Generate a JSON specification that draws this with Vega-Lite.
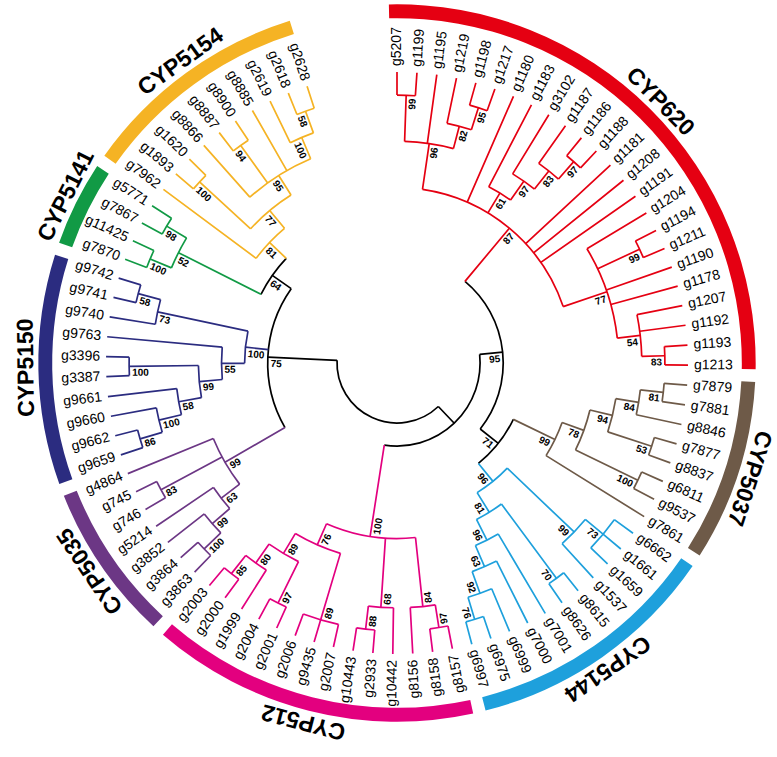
{
  "$schema": "https://vega.github.io/schema/vega-lite/v6.json",
  "width": 760,
  "height": 726,
  "autosize": {"type": "none"},
  "padding": {"left": 17, "top": 0, "right": 0, "bottom": 31},
  "config": {"view": {"stroke": null}, "font": "Liberation Sans"},
  "resolve": {"scale": {"angle": "independent"}},
  "datasets": {
    "leaves": [
      {"i":0,"n":"g5207","ph":1,"g":"CYP620"},{"i":1,"n":"g1199","ph":1,"g":"CYP620"},{"i":2,"n":"g1195","ph":3,"g":"CYP620"},{"i":3,"n":"g1219","ph":2,"g":"CYP620"},
      {"i":4,"n":"g1198","ph":1,"g":"CYP620"},{"i":5,"n":"g1217","ph":1,"g":"CYP620"},{"i":6,"n":"g1180","ph":5,"g":"CYP620"},{"i":7,"n":"g1183","ph":4,"g":"CYP620"},
      {"i":8,"n":"g3102","ph":3,"g":"CYP620"},{"i":9,"n":"g1187","ph":2,"g":"CYP620"},{"i":10,"n":"g1186","ph":1,"g":"CYP620"},{"i":11,"n":"g1188","ph":1,"g":"CYP620"},
      {"i":12,"n":"g1181","ph":5,"g":"CYP620"},{"i":13,"n":"g1208","ph":5,"g":"CYP620"},{"i":14,"n":"g1191","ph":5,"g":"CYP620"},{"i":15,"n":"g1204","ph":3,"g":"CYP620"},
      {"i":16,"n":"g1194","ph":1,"g":"CYP620"},{"i":17,"n":"g1211","ph":1,"g":"CYP620"},{"i":18,"n":"g1190","ph":3,"g":"CYP620"},{"i":19,"n":"g1178","ph":3,"g":"CYP620"},
      {"i":20,"n":"g1207","ph":2,"g":"CYP620"},{"i":21,"n":"g1192","ph":2,"g":"CYP620"},{"i":22,"n":"g1193","ph":1,"g":"CYP620"},{"i":23,"n":"g1213","ph":1,"g":"CYP620"},
      {"i":24,"n":"g7879","ph":1,"g":"CYP5037"},{"i":25,"n":"g7881","ph":1,"g":"CYP5037"},{"i":26,"n":"g8846","ph":2,"g":"CYP5037"},{"i":27,"n":"g7877","ph":1,"g":"CYP5037"},
      {"i":28,"n":"g8837","ph":1,"g":"CYP5037"},{"i":29,"n":"g6811","ph":1,"g":"CYP5037"},{"i":30,"n":"g9537","ph":1,"g":"CYP5037"},{"i":31,"n":"g7861","ph":5,"g":"CYP5037"},
      {"i":32,"n":"g6662","ph":1,"g":"CYP5144"},{"i":33,"n":"g1661","ph":1,"g":"CYP5144"},{"i":34,"n":"g1659","ph":1,"g":"CYP5144"},{"i":35,"n":"g1537","ph":2,"g":"CYP5144"},
      {"i":36,"n":"g8615","ph":1,"g":"CYP5144"},{"i":37,"n":"g8626","ph":1,"g":"CYP5144"},{"i":38,"n":"g7001","ph":4,"g":"CYP5144"},{"i":39,"n":"g7000","ph":3,"g":"CYP5144"},
      {"i":40,"n":"g6999","ph":2,"g":"CYP5144"},{"i":41,"n":"g6975","ph":1,"g":"CYP5144"},{"i":42,"n":"g6997","ph":1,"g":"CYP5144"},
      {"i":43,"n":"g8157","ph":1,"g":"CYP512"},{"i":44,"n":"g8158","ph":1,"g":"CYP512"},{"i":45,"n":"g8156","ph":2,"g":"CYP512"},{"i":46,"n":"g10442","ph":2,"g":"CYP512"},
      {"i":47,"n":"g2933","ph":1,"g":"CYP512"},{"i":48,"n":"g10443","ph":1,"g":"CYP512"},{"i":49,"n":"g2007","ph":1,"g":"CYP512"},{"i":50,"n":"g9435","ph":1,"g":"CYP512"},
      {"i":51,"n":"g2006","ph":1,"g":"CYP512"},{"i":52,"n":"g2001","ph":1,"g":"CYP512"},{"i":53,"n":"g2004","ph":1,"g":"CYP512"},{"i":54,"n":"g1999","ph":2,"g":"CYP512"},
      {"i":55,"n":"g2000","ph":1,"g":"CYP512"},{"i":56,"n":"g2003","ph":1,"g":"CYP512"},
      {"i":57,"n":"g3863","ph":1,"g":"CYP5035"},{"i":58,"n":"g3864","ph":1,"g":"CYP5035"},{"i":59,"n":"g3852","ph":2,"g":"CYP5035"},{"i":60,"n":"g5214","ph":3,"g":"CYP5035"},
      {"i":61,"n":"g746","ph":1,"g":"CYP5035"},{"i":62,"n":"g745","ph":1,"g":"CYP5035"},{"i":63,"n":"g4864","ph":4,"g":"CYP5035"},
      {"i":64,"n":"g9659","ph":1,"g":"CYP5150"},{"i":65,"n":"g9662","ph":1,"g":"CYP5150"},{"i":66,"n":"g9660","ph":2,"g":"CYP5150"},{"i":67,"n":"g9661","ph":3,"g":"CYP5150"},
      {"i":68,"n":"g3387","ph":1,"g":"CYP5150"},{"i":69,"n":"g3396","ph":1,"g":"CYP5150"},{"i":70,"n":"g9763","ph":5,"g":"CYP5150"},{"i":71,"n":"g9740","ph":2,"g":"CYP5150"},
      {"i":72,"n":"g9741","ph":1,"g":"CYP5150"},{"i":73,"n":"g9742","ph":1,"g":"CYP5150"},
      {"i":74,"n":"g7870","ph":1,"g":"CYP5141"},{"i":75,"n":"g11425","ph":1,"g":"CYP5141"},{"i":76,"n":"g7867","ph":1,"g":"CYP5141"},{"i":77,"n":"g5771","ph":1,"g":"CYP5141"},
      {"i":78,"n":"g7962","ph":5,"g":"CYP5154"},{"i":79,"n":"g1893","ph":1,"g":"CYP5154"},{"i":80,"n":"g1620","ph":1,"g":"CYP5154"},{"i":81,"n":"g8866","ph":3,"g":"CYP5154"},
      {"i":82,"n":"g8887","ph":1,"g":"CYP5154"},{"i":83,"n":"g8900","ph":1,"g":"CYP5154"},{"i":84,"n":"g8885","ph":3,"g":"CYP5154"},{"i":85,"n":"g2619","ph":2,"g":"CYP5154"},
      {"i":86,"n":"g2618","ph":1,"g":"CYP5154"},{"i":87,"n":"g2628","ph":1,"g":"CYP5154"}
    ],
    "nodes": [
      {"a":0.5,"h":1,"ph":3,"lo":0,"hi":1,"g":"CYP620","b":99},
      {"a":4.5,"h":1,"ph":2,"lo":4,"hi":5,"g":"CYP620","b":95},
      {"a":3.75,"h":2,"ph":3,"lo":3,"hi":4.5,"g":"CYP620","b":82},
      {"a":2.125,"h":3,"ph":5,"lo":0.5,"hi":3.75,"g":"CYP620","b":96},
      {"a":10.5,"h":1,"ph":2,"lo":10,"hi":11,"g":"CYP620","b":97},
      {"a":9.75,"h":2,"ph":3,"lo":9,"hi":10.5,"g":"CYP620","b":83},
      {"a":8.875,"h":3,"ph":4,"lo":8,"hi":9.75,"g":"CYP620","b":97},
      {"a":7.9375,"h":4,"ph":5,"lo":7,"hi":8.875,"g":"CYP620","b":61},
      {"a":16.5,"h":1,"ph":3,"lo":16,"hi":17,"g":"CYP620","b":99},
      {"a":22.5,"h":1,"ph":2,"lo":22,"hi":23,"g":"CYP620","b":83},
      {"a":21.25,"h":2,"ph":3,"lo":20,"hi":22.5,"g":"CYP620","b":54},
      {"a":18.125,"h":3,"ph":5,"lo":15,"hi":21.25,"g":"CYP620","b":77},
      {"a":10.125,"h":5,"ph":8,"lo":2.125,"hi":18.125,"g":"CYP620","b":87},
      {"a":24.5,"h":1,"ph":2,"lo":24,"hi":25,"g":"CYP5037","b":81},
      {"a":25.25,"h":2,"ph":3,"lo":24.5,"hi":26,"g":"CYP5037","b":84},
      {"a":27.5,"h":1,"ph":3,"lo":27,"hi":28,"g":"CYP5037","b":53},
      {"a":26.375,"h":3,"ph":4,"lo":25.25,"hi":27.5,"g":"CYP5037","b":94},
      {"a":29.5,"h":1,"ph":4,"lo":29,"hi":30,"g":"CYP5037","b":100},
      {"a":27.9375,"h":4,"ph":5,"lo":26.375,"hi":29.5,"g":"CYP5037","b":78},
      {"a":29.46875,"h":5,"ph":7,"lo":27.9375,"hi":31,"g":"CYP5037","b":99},
      {"a":33,"h":1,"ph":2,"lo":32,"hi":34,"g":"CYP5144","b":73},
      {"a":34,"h":2,"ph":6,"lo":33,"hi":35,"g":"CYP5144","b":99},
      {"a":36.5,"h":1,"ph":5,"lo":36,"hi":37,"g":"CYP5144","b":70},
      {"a":41.5,"h":1,"ph":2,"lo":41,"hi":42,"g":"CYP5144","b":76},
      {"a":40.75,"h":2,"ph":3,"lo":40,"hi":41.5,"g":"CYP5144","b":92},
      {"a":39.875,"h":3,"ph":4,"lo":39,"hi":40.75,"g":"CYP5144","b":63},
      {"a":38.9375,"h":4,"ph":5,"lo":38,"hi":39.875,"g":"CYP5144","b":96},
      {"a":37.71875,"h":5,"ph":6,"lo":36.5,"hi":38.9375,"g":"CYP5144","b":81},
      {"a":35.859375,"h":6,"ph":7,"lo":34,"hi":37.71875,"g":"CYP5144","b":96},
      {"a":32.6640625,"h":7,"ph":8,"lo":29.46875,"hi":35.859375,"g":"bb","b":71},
      {"a":21.39453,"h":8,"ph":9,"lo":10.125,"hi":32.6640625,"g":"bb","b":95},
      {"a":43.5,"h":1,"ph":2,"lo":43,"hi":44,"g":"CYP512","b":97},
      {"a":44.25,"h":2,"ph":5,"lo":43.5,"hi":45,"g":"CYP512","b":84},
      {"a":47.5,"h":1,"ph":2,"lo":47,"hi":48,"g":"CYP512","b":88},
      {"a":46.75,"h":2,"ph":5,"lo":46,"hi":47.5,"g":"CYP512","b":68},
      {"a":50,"h":1,"ph":4,"lo":49,"hi":51,"g":"CYP512","b":89},
      {"a":52.5,"h":1,"ph":3,"lo":52,"hi":53,"g":"CYP512","b":97},
      {"a":55.5,"h":1,"ph":2,"lo":55,"hi":56,"g":"CYP512","b":85},
      {"a":54.75,"h":2,"ph":3,"lo":54,"hi":55.5,"g":"CYP512","b":80},
      {"a":53.625,"h":3,"ph":4,"lo":52.5,"hi":54.75,"g":"CYP512","b":89},
      {"a":51.8125,"h":4,"ph":5,"lo":50,"hi":53.625,"g":"CYP512","b":76},
      {"a":48.03125,"h":5,"ph":9,"lo":44.25,"hi":51.8125,"g":"CYP512","b":100},
      {"a":34.7129,"h":9,"ph":10,"lo":21.39453,"hi":48.03125,"g":"bb"},
      {"a":57.5,"h":1,"ph":2,"lo":57,"hi":58,"g":"CYP5035","b":100},
      {"a":58.25,"h":2,"ph":3,"lo":57.5,"hi":59,"g":"CYP5035","b":99},
      {"a":59.125,"h":3,"ph":4,"lo":58.25,"hi":60,"g":"CYP5035","b":63},
      {"a":61.5,"h":1,"ph":4,"lo":61,"hi":62,"g":"CYP5035","b":83},
      {"a":61.0625,"h":4,"ph":7,"lo":59.125,"hi":63,"g":"CYP5035","b":99},
      {"a":64.5,"h":1,"ph":2,"lo":64,"hi":65,"g":"CYP5150","b":86},
      {"a":65.25,"h":2,"ph":3,"lo":64.5,"hi":66,"g":"CYP5150","b":100},
      {"a":66.125,"h":3,"ph":4,"lo":65.25,"hi":67,"g":"CYP5150","b":58},
      {"a":68.5,"h":1,"ph":4,"lo":68,"hi":69,"g":"CYP5150","b":100},
      {"a":67.3125,"h":4,"ph":5,"lo":66.125,"hi":68.5,"g":"CYP5150","b":99},
      {"a":68.65625,"h":5,"ph":6,"lo":67.3125,"hi":70,"g":"CYP5150","b":55},
      {"a":72.5,"h":1,"ph":2,"lo":72,"hi":73,"g":"CYP5150","b":58},
      {"a":71.75,"h":2,"ph":6,"lo":71,"hi":72.5,"g":"CYP5150","b":73},
      {"a":70.203125,"h":6,"ph":7,"lo":68.65625,"hi":71.75,"g":"CYP5150","b":100},
      {"a":74.5,"h":1,"ph":2,"lo":74,"hi":75,"g":"CYP5141","b":100},
      {"a":76.5,"h":1,"ph":2,"lo":76,"hi":77,"g":"CYP5141","b":98},
      {"a":75.5,"h":2,"ph":6,"lo":74.5,"hi":76.5,"g":"CYP5141","b":52},
      {"a":86.5,"h":1,"ph":2,"lo":86,"hi":87,"g":"CYP5154","b":58},
      {"a":85.75,"h":2,"ph":3,"lo":85,"hi":86.5,"g":"CYP5154","b":100},
      {"a":82.5,"h":1,"ph":3,"lo":82,"hi":83,"g":"CYP5154","b":94},
      {"a":83.375,"h":3,"ph":4,"lo":81,"hi":85.75,"g":"CYP5154","b":95},
      {"a":79.5,"h":1,"ph":4,"lo":79,"hi":80,"g":"CYP5154","b":100},
      {"a":81.4375,"h":4,"ph":5,"lo":79.5,"hi":83.375,"g":"CYP5154","b":77},
      {"a":79.71875,"h":5,"ph":6,"lo":78,"hi":81.4375,"g":"CYP5154","b":81},
      {"a":77.609375,"h":6,"ph":7,"lo":75.5,"hi":79.71875,"g":"bb","b":64},
      {"a":69.3359,"h":7,"ph":10,"lo":61.0625,"hi":77.609375,"g":"bb","b":75},
      {"a":52.02,"h":10,"lo":34.7129,"hi":69.3359,"g":"bb"}
    ],
    "clades": [
      {"name":"CYP620","first":0,"last":23},
      {"name":"CYP5037","first":24,"last":31},
      {"name":"CYP5144","first":32,"last":42},
      {"name":"CYP512","first":43,"last":56},
      {"name":"CYP5035","first":57,"last":63},
      {"name":"CYP5150","first":64,"last":73},
      {"name":"CYP5141","first":74,"last":77},
      {"name":"CYP5154","first":78,"last":87}
    ]
  },
  "layer": [
    {
      "data": {"name": "nodes"},
      "mark": {"type": "arc", "filled": false, "strokeWidth": 1.7},
      "encoding": {
        "theta": {"field": "lo", "type": "quantitative", "stack": null, "scale": {"type": "linear", "domain": [0, 87], "range": [0, 5.969026], "zero": false, "nice": false}},
        "theta2": {"field": "hi"},
        "radius": {"field": "h", "type": "quantitative", "scale": {"type": "linear", "domain": [10, 0], "range": [60, 291], "zero": false, "nice": false}},
        "radius2": {"field": "h"},
        "color": {"field": "g", "type": "nominal", "legend": null,
          "scale": {"domain": ["CYP620","CYP5037","CYP5144","CYP512","CYP5035","CYP5150","CYP5141","CYP5154","bb"],
                    "range": ["#e50012","#6e5a48","#1ea0dc","#e3007f","#6c3785","#2b2c80","#119a45","#f5b324","#000000"]}}
      }
    },
    {
      "data": {"name": "nodes"},
      "transform": [{"filter": "isValid(datum.ph)"}],
      "mark": {"type": "arc", "filled": false, "strokeWidth": 1.7},
      "encoding": {
        "theta": {"field": "a", "type": "quantitative", "stack": null},
        "theta2": {"field": "a"},
        "radius": {"field": "ph", "type": "quantitative"},
        "radius2": {"field": "h"},
        "color": {"field": "g", "type": "nominal", "legend": null}
      }
    },
    {
      "data": {"name": "leaves"},
      "mark": {"type": "arc", "filled": false, "strokeWidth": 1.7},
      "encoding": {
        "theta": {"field": "i", "type": "quantitative", "stack": null},
        "theta2": {"field": "i"},
        "radius": {"field": "ph", "type": "quantitative"},
        "radius2": {"datum": 0},
        "color": {"field": "g", "type": "nominal", "legend": null}
      }
    },
    {
      "data": {"name": "clades"},
      "mark": {"type": "arc", "thetaOffset": -0.0227, "theta2Offset": 0.0105, "stroke": null},
      "encoding": {
        "theta": {"field": "first", "type": "quantitative", "stack": null},
        "theta2": {"field": "last"},
        "radius": {"datum": -2.33, "type": "quantitative"},
        "radius2": {"datum": -2.93},
        "color": {"field": "name", "type": "nominal", "legend": null}
      }
    },
    {
      "data": {"name": "clades"},
      "transform": [{"calculate": "(datum.first + datum.last) / 2", "as": "c"}],
      "mark": {"type": "text", "fontSize": 23, "fontWeight": "bold", "align": "center", "baseline": "middle", "color": "#000000"},
      "encoding": {
        "theta": {"field": "c", "type": "quantitative", "stack": null},
        "radius": {"datum": -3.45, "type": "quantitative"},
        "angle": {"field": "c", "type": "quantitative", "legend": null, "scale": {"domain": [0, 87], "range": [0, 342]}},
        "text": {"field": "name"}
      }
    },
    {
      "data": {"name": "leaves"},
      "transform": [{"filter": "datum.i <= 42"}],
      "mark": {"type": "text", "fontSize": 14, "align": "left", "baseline": "middle", "dx": 6, "color": "#000000"},
      "encoding": {
        "theta": {"field": "i", "type": "quantitative", "stack": null},
        "radius": {"datum": 0, "type": "quantitative"},
        "angle": {"field": "i", "type": "quantitative", "legend": null, "scale": {"domain": [0, 87], "range": [-90, 252]}},
        "text": {"field": "n"}
      }
    },
    {
      "data": {"name": "leaves"},
      "transform": [{"filter": "datum.i >= 43"}],
      "mark": {"type": "text", "fontSize": 14, "align": "right", "baseline": "middle", "dx": -6, "color": "#000000"},
      "encoding": {
        "theta": {"field": "i", "type": "quantitative", "stack": null},
        "radius": {"datum": 0, "type": "quantitative"},
        "angle": {"field": "i", "type": "quantitative", "legend": null, "scale": {"domain": [0, 87], "range": [90, 432]}},
        "text": {"field": "n"}
      }
    },
    {
      "data": {"name": "nodes"},
      "transform": [{"filter": "isValid(datum.b) && datum.a < 43"}],
      "mark": {"type": "text", "fontSize": 10, "fontWeight": "bold", "align": "right", "baseline": "middle", "dx": -3, "dy": 6.5, "color": "#000000"},
      "encoding": {
        "theta": {"field": "a", "type": "quantitative", "stack": null},
        "radius": {"field": "h", "type": "quantitative"},
        "angle": {"field": "a", "type": "quantitative", "legend": null, "scale": {"domain": [0, 87], "range": [-90, 252]}},
        "text": {"field": "b"}
      }
    },
    {
      "data": {"name": "nodes"},
      "transform": [{"filter": "isValid(datum.b) && datum.a >= 43"}],
      "mark": {"type": "text", "fontSize": 10, "fontWeight": "bold", "align": "left", "baseline": "middle", "dx": 3, "dy": 6.5, "color": "#000000"},
      "encoding": {
        "theta": {"field": "a", "type": "quantitative", "stack": null},
        "radius": {"field": "h", "type": "quantitative"},
        "angle": {"field": "a", "type": "quantitative", "legend": null, "scale": {"domain": [0, 87], "range": [90, 432]}},
        "text": {"field": "b"}
      }
    }
  ]
}
